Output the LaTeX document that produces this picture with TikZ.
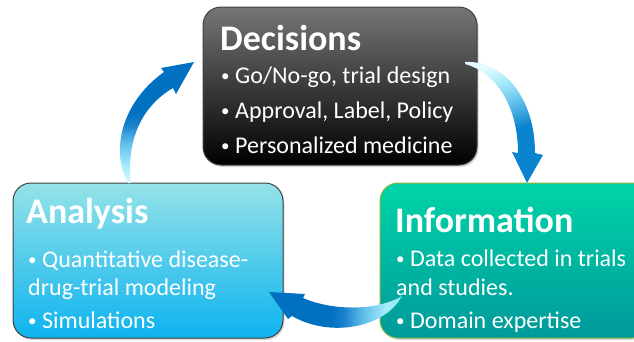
\documentclass[tikz,border=0pt]{standalone}
\usepackage{fontspec}
\setmainfont{Carlito}
\usetikzlibrary{shadows}
\definecolor{decTop}{HTML}{767676}
\definecolor{decBot}{HTML}{000000}
\definecolor{anaTop}{HTML}{95E3E8}
\definecolor{anaBot}{HTML}{0DB3EF}
\definecolor{infTop}{HTML}{00D4A8}
\definecolor{infBot}{HTML}{00999B}
\definecolor{infLine}{HTML}{8DB33F}
\definecolor{arrBlue}{HTML}{0070C0}
\definecolor{arrBlueTwo}{HTML}{0A84CE}
\definecolor{arrDeep}{HTML}{1A80CC}
\definecolor{arrMid}{HTML}{66C2EC}
\definecolor{arrLight}{HTML}{A6EBFA}
\definecolor{arrPale}{HTML}{E0FAFF}
\definecolor{arrTeal}{HTML}{8CE3E6}
\pgfdeclareverticalshading{arrOne}{100bp}{color(0bp)=(arrPale); color(25bp)=(arrPale); color(32bp)=(arrLight); color(41bp)=(arrMid); color(49bp)=(arrDeep); color(55bp)=(arrBlue); color(100bp)=(arrBlue)}
\pgfdeclareverticalshading{arrTwo}{100bp}{color(0bp)=(arrBlueTwo); color(45bp)=(arrBlueTwo); color(57bp)=(arrMid); color(67bp)=(arrLight); color(75bp)=(arrPale); color(100bp)=(arrPale)}
\pgfdeclareverticalshading{arrThree}{100bp}{color(0bp)=(arrTeal); color(25bp)=(arrTeal); color(31bp)=(arrLight); color(39bp)=(arrMid); color(47bp)=(arrDeep); color(52bp)=(arrBlue); color(100bp)=(arrBlue)}
\tikzstyle{boxStyle}=[rounded corners=18pt, line width=1pt, drop shadow={opacity=0.3, shadow xshift=1.5pt, shadow yshift=-2pt}]
\newcommand{\bul}{\raisebox{1.5pt}{\fontsize{17}{17}\selectfont •}\hspace{5.5pt}}

\begin{document}
\begin{tikzpicture}[x = 1pt, y = -1pt]
\tikzstyle{titleStyle}=[anchor = base west, inner sep = 0pt, text = white, font = \fontsize{36}{40}\selectfont\bfseries]
\tikzstyle{itemStyle}=[anchor = base west, inner sep = 0pt, text = white, font = \fontsize{24}{28}\selectfont]
\useasboundingbox (0,0) rectangle (634,341);
\clip (0,0) rectangle (634,341);
% boxes
\node[boxStyle, draw = black!75, top color = decTop, bottom color = decBot, minimum width = 274pt, minimum height = 158pt] (dec) at (340,86) {};
\node[boxStyle, draw = black!75, top color = anaTop, bottom color = anaBot, minimum width = 270pt, minimum height = 155pt] (ana) at (148,260.5) {};
\node[boxStyle, draw = infLine, top color = infTop, bottom color = infBot, minimum width = 270pt, minimum height = 155pt] (inf) at (515,260.5) {};
% arrows
\coordinate (a1tail) at (128,183);
\coordinate (a1tip) at (194,62);
\coordinate (a2tail) at (465,62);
\coordinate (a2tip) at (527,183);
\coordinate (a3tail) at (402,296);
\coordinate (a3tip) at (269,292);
\shade[shading = arrOne] (a1tail) .. controls (110,150) and (122,102) .. (164,72) -- (161,68) -- (a1tip) -- (176,94) -- (173,88) .. controls (142,106) and (126,140) .. (131,183) -- cycle;
\shade[shading = arrTwo, shading angle = 20] (a2tail) .. controls (505,60) and (535,100) .. (535,153) -- (543,155) -- (a2tip) -- (512,152) -- (518,153) .. controls (518,105) and (495,72) .. (465,64) -- cycle;
\shade[shading = arrThree, shading angle = 90] (a3tip) -- (305,294) -- (303,298) .. controls (330,310) and (375,312) .. (a3tail) .. controls (385,328) and (330,338) .. (292,316) -- (288,319) -- cycle;
% texts
\node[titleStyle] (d0) at (220,50) {Decisions};
\node[itemStyle] (d1) at (221,83) {\bul Go/No-go, trial design};
\node[itemStyle] (d2) at (221,118) {\bul Approval, Label, Policy};
\node[itemStyle] (d3) at (221,153) {\bul Personalized medicine};
\node[titleStyle] (n0) at (26,223) {Analysis};
\node[itemStyle] (n1) at (28,267) {\bul Quantitative disease-};
\node[itemStyle] (n2) at (28,295) {drug-trial modeling};
\node[itemStyle] (n3) at (28,328) {\bul Simulations};
\node[titleStyle] (i0) at (395,232) {Information};
\node[itemStyle] (i1) at (396,266) {\bul Data collected in trials};
\node[itemStyle] (i2) at (396,295) {and studies.};
\node[itemStyle] (i3) at (396,328) {\bul Domain expertise};
\end{tikzpicture}
\end{document}
